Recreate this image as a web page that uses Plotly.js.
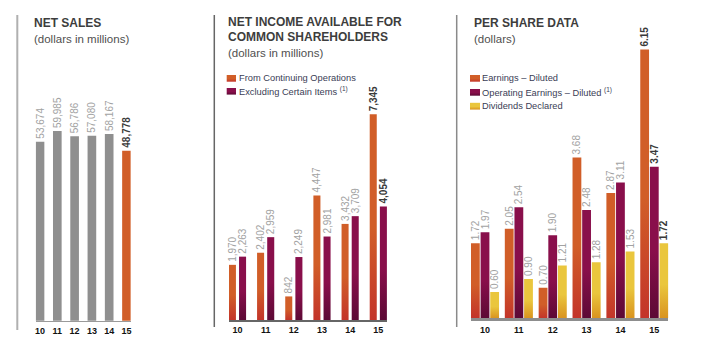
<!DOCTYPE html>
<html>
<head>
<meta charset="utf-8">
<script src="https://cdn.plot.ly/plotly-3.0.1.min.js"></script>
<style>
  html, body { margin: 0; padding: 0; background: #fff; }
  #chart { width: 706px; height: 354px; }
</style>
</head>
<body>
<div id="chart"></div>
<script>
// ---------- data ----------
const years = ['10', '11', '12', '13', '14', '15'];
const netSales = [53674, 59985, 56786, 57080, 58167, 48778];
const incomeContinuing = [1970, 2402, 842, 4447, 3432, 7345];
const incomeExcluding = [2263, 2959, 2249, 2981, 3709, 4054];
const epsDiluted = [1.72, 2.05, 0.70, 3.68, 2.87, 6.15];
const operatingEpsDiluted = [1.97, 2.54, 1.90, 2.48, 3.11, 3.47];
const dividendsDeclared = [0.60, 0.90, 1.21, 1.28, 1.53, 1.72];

// ---------- styles ----------
const W = 706, H = 354;
const px = v => v / W;
const py = v => 1 - v / H;
const FONT = 'Liberation Sans, Arial, sans-serif';
const GREY = 'rgb(143, 143, 143)';
const ORANGE = 'rgb(205, 82, 40)';
const MAROON = 'rgb(128, 13, 70)';
const GOLD = 'rgb(229, 185, 55)';
const LABEL_GREY = '#a2a2a2';
const LABEL_DARK = '#3a3a3a';

const fmtInt = v => v.toLocaleString('en-US');
const fmtDec = v => v.toFixed(2);
const labels = (arr, fmt) => arr.map((v, i) => i === arr.length - 1 ? '<b>' + fmt(v) + '</b>' : fmt(v));
const labelColors = arr => arr.map((v, i) => i === arr.length - 1 ? LABEL_DARK : LABEL_GREY);

function barTrace(vals, fmt, color, xa, ya, offset, width, name) {
  return {
    type: 'bar', x: years, y: vals, name: name,
    xaxis: xa, yaxis: ya,
    offset: offset, width: width,
    marker: { color: color, line: { width: 0 } },
    text: labels(vals, fmt),
    textposition: 'outside', textangle: -90,
    constraintext: 'none', cliponaxis: false,
    textfont: { family: FONT, size: 10, color: labelColors(vals) },
    showlegend: false, hoverinfo: 'skip'
  };
}

const salesColors = netSales.map((v, i) => i === netSales.length - 1 ? ORANGE : GREY);

const traces = [
  barTrace(netSales, fmtInt, salesColors, 'x', 'y', -0.25, 0.5, 'Net Sales'),
  barTrace(incomeContinuing, fmtInt, ORANGE, 'x2', 'y2', -0.305, 0.25, 'From Continuing Operations'),
  barTrace(incomeExcluding, fmtInt, MAROON, 'x2', 'y2', 0.055, 0.25, 'Excluding Certain Items'),
  barTrace(epsDiluted, fmtDec, ORANGE, 'x3', 'y3', -0.415, 0.26, 'Earnings – Diluted'),
  barTrace(operatingEpsDiluted, fmtDec, MAROON, 'x3', 'y3', -0.13, 0.26, 'Operating Earnings – Diluted'),
  barTrace(dividendsDeclared, fmtDec, GOLD, 'x3', 'y3', 0.155, 0.26, 'Dividends Declared')
];

function xAxis(domain, range, lineColor, lineWidth, anchor) {
  return {
    domain: domain, range: range, type: 'category', anchor: anchor,
    showgrid: false, zeroline: false,
    showline: true, linecolor: lineColor, linewidth: lineWidth,
    ticks: '', ticklabelstandoff: 1,
    tickfont: { family: FONT, size: 9, color: '#111', weight: 'bold' },
    fixedrange: true
  };
}
function yAxis(domain, range, type, anchor) {
  return {
    domain: domain, range: range, type: type, anchor: anchor,
    visible: false, showgrid: false, zeroline: false, fixedrange: true
  };
}

const titleFont = { family: FONT, size: 12, color: '#3d3d3d', weight: 'bold' };
const subFont = { family: FONT, size: 11.5, color: '#4f4f4f' };
const legFont = { family: FONT, size: 9.3, color: '#3a3d55' };

function ann(text, x, y, font) {
  return { text: text, x: px(x - 1), y: py(y), xref: 'paper', yref: 'paper',
           xanchor: 'left', yanchor: 'middle', showarrow: false, font: font, align: 'left' };
}
function vline(x, y0, y1, color, w) {
  return { type: 'line', xref: 'paper', yref: 'paper', x0: px(x), x1: px(x), y0: py(y0), y1: py(y1),
           line: { color: color, width: w } };
}
function swatch(x0, x1, y0, y1, color) {
  return { type: 'rect', xref: 'paper', yref: 'paper', x0: px(x0), x1: px(x1), y0: py(y0), y1: py(y1),
           fillcolor: color, line: { width: 0 } };
}

const layout = {
  width: W, height: H,
  margin: { l: 0, r: 0, t: 0, b: 0 },
  paper_bgcolor: '#fff', plot_bgcolor: 'rgba(0,0,0,0)',
  barmode: 'overlay',
  showlegend: false,
  xaxis:  xAxis([px(35.7), px(130.8)], [-0.25, 5.25], '#9a9a9a', 1, 'y'),
  yaxis:  yAxis([py(320.7), py(15)], [3.9084, 5.3107], 'log', 'x'),
  xaxis2: xAxis([px(228.9), px(386.9)], [-0.305, 5.305], '#666666', 1.5, 'y2'),
  yaxis2: yAxis([py(320), py(15)], [0, 10893], 'linear', 'x2'),
  xaxis3: xAxis([px(470.95), px(668.35)], [-0.415, 5.415], '#8d8d8d', 3, 'y3'),
  yaxis3: yAxis([py(318.3), py(15)], [0, 6.941], 'linear', 'x3'),
  annotations: [
    ann('NET SALES', 33.3, 23.5, titleFont),
    ann('(dollars in millions)', 33.3, 39, subFont),
    ann('NET INCOME AVAILABLE FOR', 226.7, 21.5, titleFont),
    ann('COMMON SHAREHOLDERS', 226.7, 37.5, titleFont),
    ann('(dollars in millions)', 226.7, 53.5, subFont),
    ann('PER SHARE DATA', 473.3, 23.5, titleFont),
    ann('(dollars)', 473.3, 39, subFont),
    ann('From Continuing Operations', 237.7, 78.3, legFont),
    ann('Excluding Certain Items <sup>(1)</sup>', 237.7, 91.3, legFont),
    ann('Earnings – Diluted', 481, 78.3, legFont),
    ann('Operating Earnings – Diluted <sup>(1)</sup>', 481, 92.3, legFont),
    ann('Dividends Declared', 481, 106.2, legFont)
  ],
  shapes: [
    vline(17.3, 15, 330, '#b0b0b0', 2),
    vline(214.3, 15, 327, '#666666', 1.5),
    vline(456.7, 15, 327, '#8a8a8a', 1.5),
    swatch(226.7, 236, 75, 81.7, ORANGE),
    swatch(226.7, 236, 88, 94.6, MAROON),
    swatch(470, 480, 75, 81.7, ORANGE),
    swatch(470, 480, 89, 95.7, MAROON),
    swatch(470, 480, 102.8, 109.6, GOLD)
  ]
};

const gd = document.getElementById('chart');
Plotly.newPlot(gd, traces, layout, { displayModeBar: false, staticPlot: true }).then(() => {
  // vertical colour gradients on the coloured bars, as in the original print graphic
  const NS = 'http://www.w3.org/2000/svg';
  const svg = gd.querySelector('.main-svg');
  let defs = svg.querySelector('defs');
  if (!defs) { defs = document.createElementNS(NS, 'defs'); svg.insertBefore(defs, svg.firstChild); }
  const grads = {
    'rgb(205, 82, 40)': ['gOrange', '#d15e28', '#c3342a'],
    'rgb(128, 13, 70)': ['gMaroon', '#890f4b', '#5c0935'],
    'rgb(229, 185, 55)': ['gGold', '#eac63d', '#d9931f']
  };
  Object.values(grads).forEach(([id, c0, c1]) => {
    const g = document.createElementNS(NS, 'linearGradient');
    g.setAttribute('id', id);
    g.setAttribute('x1', '0'); g.setAttribute('y1', '0');
    g.setAttribute('x2', '0'); g.setAttribute('y2', '1');
    [[0, c0], [0.55, c0], [1, c1]].forEach(([o, c]) => {
      const s = document.createElementNS(NS, 'stop');
      s.setAttribute('offset', o);
      s.setAttribute('stop-color', c);
      g.appendChild(s);
    });
    defs.appendChild(g);
  });
  gd.querySelectorAll('.barlayer .point path, .shapelayer path').forEach(p => {
    const f = p.style.fill;
    if (grads[f]) p.style.fill = 'url(#' + grads[f][0] + ')';
  });
});
</script>
</body>
</html>
